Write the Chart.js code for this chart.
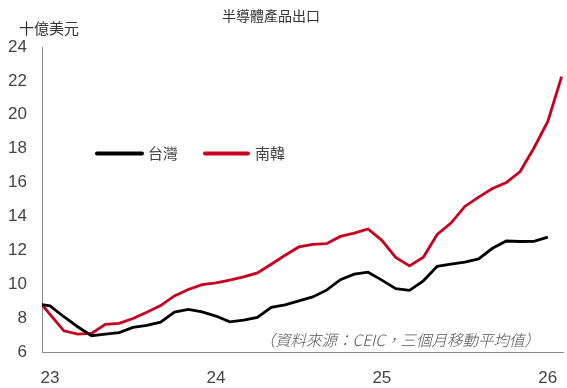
<!DOCTYPE html>
<html>
<head>
<meta charset="utf-8">
<script src="https://cdn.jsdelivr.net/npm/chart.js@4/dist/chart.umd.min.js"></script>
<style>
  html, body { margin: 0; padding: 0; background: #fff; }
  #wrap { width: 567px; height: 388px; }
</style>
</head>
<body>
<div id="wrap"><canvas id="chart" width="567" height="388"></canvas></div>
<script>
// monthly data, Dec 2022 .. Feb 2026 (three-month moving average, USD bn)
const months = ['2022-12',
  '2023-01','2023-02','2023-03','2023-04','2023-05','2023-06','2023-07','2023-08','2023-09','2023-10','2023-11','2023-12',
  '2024-01','2024-02','2024-03','2024-04','2024-05','2024-06','2024-07','2024-08','2024-09','2024-10','2024-11','2024-12',
  '2025-01','2025-02','2025-03','2025-04','2025-05','2025-06','2025-07','2025-08','2025-09','2025-10','2025-11','2025-12',
  '2026-01','2026-02'];

const taiwan = [8.85,
  8.72, 8.08, 7.49, 6.96, 7.06, 7.14, 7.45, 7.57, 7.76, 8.35, 8.51, 8.37,
  8.12, 7.78, 7.88, 8.04, 8.63, 8.78, 9.02, 9.25, 9.65, 10.27, 10.59, 10.71,
  10.24, 9.74, 9.64, 10.2, 11.06, 11.18, 11.31, 11.49, 12.12, 12.55, 12.52, 12.53,
  12.78, null];

const korea = [9.2,
  8.22, 7.25, 7.06, 7.1, 7.63, 7.69, 7.98, 8.35, 8.74, 9.31, 9.69, 9.98,
  10.08, 10.24, 10.43, 10.67, 11.18, 11.71, 12.2, 12.35, 12.39, 12.82, 13.02, 13.26,
  12.59, 11.58, 11.08, 11.59, 12.94, 13.61, 14.59, 15.14, 15.65, 16.0, 16.65, 18.04,
  19.61, 22.25];

const yearLabels = ['23', '24', '25', '26'];
const yTicks = [6, 8, 10, 12, 14, 16, 18, 20, 22, 24];

// month index relative to Jan 2023
function toPoints(arr) {
  return arr.map((v, i) => ({ x: i - 1, y: v }));
}

const cjk = '"Noto Sans CJK TC", "Noto Sans CJK SC", sans-serif';
const latin = '"Liberation Sans", Arial, sans-serif';

// title, unit label, legend and source note
const textPlugin = {
  id: 'texts',
  afterDraw(chart) {
    const ctx = chart.ctx;
    ctx.save();
    ctx.fillStyle = '#333';
    ctx.textBaseline = 'middle';

    ctx.font = '14px ' + cjk;
    ctx.textAlign = 'center';
    ctx.fillText('半導體產品出口', 271, 16);

    ctx.font = '15px ' + cjk;
    ctx.textAlign = 'left';
    ctx.fillText('十億美元', 19, 28);

    // legend
    const items = [
      { x0: 97, x1: 142, tx: 148, ds: chart.data.datasets[0] },
      { x0: 205, x1: 248, tx: 255, ds: chart.data.datasets[1] }
    ];
    items.forEach(it => {
      ctx.strokeStyle = it.ds.borderColor;
      ctx.lineWidth = 4;
      ctx.lineCap = 'round';
      ctx.beginPath();
      ctx.moveTo(it.x0, 153.5);
      ctx.lineTo(it.x1, 153.5);
      ctx.stroke();
      ctx.fillStyle = '#444';
      ctx.font = '15px ' + cjk;
      ctx.fillText(it.ds.label, it.tx, 153);
    });

    // source note
    ctx.font = 'italic 300 15.5px ' + cjk;
    ctx.fillStyle = '#555';
    ctx.textAlign = 'right';
    ctx.fillText('（資料來源：CEIC，三個月移動平均值）', 540, 340);
    ctx.restore();
  }
};

new Chart(document.getElementById('chart'), {
  type: 'line',
  data: {
    datasets: [
      {
        label: '台灣',
        data: toPoints(taiwan),
        borderColor: '#000000',
        borderWidth: 2.8,
        pointRadius: 0,
        tension: 0
      },
      {
        label: '南韓',
        data: toPoints(korea),
        borderColor: '#c8001e',
        borderWidth: 2.8,
        pointRadius: 0,
        tension: 0
      }
    ]
  },
  options: {
    responsive: false,
    animation: false,
    layout: { padding: { top: 47, right: 4, left: 0, bottom: 0 } },
    plugins: {
      legend: { display: false },
      tooltip: { enabled: false }
    },
    scales: {
      x: {
        type: 'linear',
        min: -0.58,
        max: 37.1,
        grid: { display: false, drawTicks: false },
        border: { display: true, color: '#8a8a8a', width: 1 },
        afterBuildTicks: scale => {
          scale.ticks = yearLabels.map((l, i) => ({ value: i * 12 }));
        },
        afterFit: scale => {
          scale.height = 36;
          scale.paddingLeft = 0;
          scale.paddingRight = 0;
        },
        ticks: {
          padding: 16,
          maxRotation: 0,
          autoSkip: false,
          color: '#444',
          font: { family: latin, size: 17 },
          callback: (v) => yearLabels[v / 12]
        }
      },
      y: {
        min: 6,
        max: 24,
        grid: { display: false, drawTicks: false },
        border: { display: true, color: '#8a8a8a', width: 1 },
        afterBuildTicks: scale => {
          scale.ticks = yTicks.map(v => ({ value: v }));
        },
        afterFit: scale => {
          scale.width = 42;
          scale.paddingTop = 0;
          scale.paddingBottom = 0;
        },
        ticks: {
          padding: 15,
          color: '#444',
          font: { family: latin, size: 17 }
        }
      }
    }
  },
  plugins: [textPlugin]
});
</script>
</body>
</html>
